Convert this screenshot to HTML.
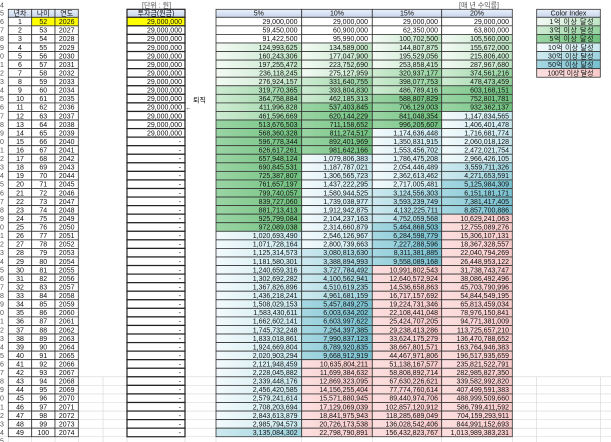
<!DOCTYPE html>
<html><head><meta charset="utf-8"><style>
html,body{margin:0;padding:0;background:#fff;}
svg{display:block}
text{font-family:"Liberation Sans","Noto Sans CJK KR",sans-serif;font-size:7px;fill:#111}
.m{text-anchor:middle}.r{text-anchor:end}
.n{fill:#555}
.k{stroke:#333;stroke-width:.8}
.k2{stroke:#222;stroke-width:1.2}
.w{fill:#fff}.y{fill:#ffff00}.h{fill:url(#gh)}
.l1{fill:url(#g1)}.l2{fill:url(#g2)}.l3{fill:url(#g3)}.l4{fill:url(#g4)}.l5{fill:url(#g5)}.l6{fill:url(#g6)}.l7{fill:url(#g7)}
.gl{stroke:#d6d6d6;stroke-width:.6;fill:none}
</style></head><body>
<svg width="611" height="442" viewBox="0 0 611 442" xmlns="http://www.w3.org/2000/svg">
<defs>
<linearGradient id="g1" x1="0" x2="1" y1="0" y2="0"><stop offset="0" stop-color="#f3faf4"/><stop offset="1" stop-color="#bfe5c4"/></linearGradient>
<linearGradient id="g2" x1="0" x2="1" y1="0" y2="0"><stop offset="0" stop-color="#cfecd3"/><stop offset="1" stop-color="#94d29e"/></linearGradient>
<linearGradient id="g3" x1="0" x2="1" y1="0" y2="0"><stop offset="0" stop-color="#9ad5a4"/><stop offset="1" stop-color="#70c07e"/></linearGradient>
<linearGradient id="g4" x1="0" x2="1" y1="0" y2="0"><stop offset="0" stop-color="#f3fafc"/><stop offset="1" stop-color="#c8e8ee"/></linearGradient>
<linearGradient id="g5" x1="0" x2="1" y1="0" y2="0"><stop offset="0" stop-color="#cde9ef"/><stop offset="1" stop-color="#9dd3de"/></linearGradient>
<linearGradient id="g6" x1="0" x2="1" y1="0" y2="0"><stop offset="0" stop-color="#a6d8e2"/><stop offset="1" stop-color="#78c0cf"/></linearGradient>
<linearGradient id="g7" x1="0" x2="1" y1="0" y2="0"><stop offset="0" stop-color="#fcdede"/><stop offset="1" stop-color="#f7caca"/></linearGradient>
<linearGradient id="gh" x1="0" x2="0" y1="0" y2="1"><stop offset="0" stop-color="#eaf0f9"/><stop offset="1" stop-color="#c7d5ed"/></linearGradient>
</defs>

<!-- gridlines lower area -->
<path class="gl" d="M78.3 376.82H127M78.3 385.38H127M78.3 393.94H127M78.3 402.5H127M78.3 411.06H127M78.3 419.62H127M78.3 428.18H127
M185 376.82H216M185 385.38H216M185 393.94H216M185 402.5H216M185 411.06H216M185 419.62H216M185 428.18H216
M512.3 376.82H611M512.3 385.38H611M512.3 393.94H611M512.3 402.5H611M512.3 411.06H611M512.3 419.62H611M512.3 428.18H611
M0 436.74H611M103 376.82V442M536.7 376.82V442M600.3 376.82V442
M8.3 436.74V442M31.7 436.74V442M55 436.74V442M78.3 436.74V442M127 436.74V442M185 436.74V442M216 436.74V442M301.7 436.74V442M372.3 436.74V442M441.7 436.74V442M512.3 436.74V442"/>

<!-- top labels -->
<text class="n" x="0" y="7.5">4</text>
<text class="n" x="142" y="7.5">[단위 : 원]</text>
<text class="n" x="459" y="7.5">[매 년 수익률]</text>

<!-- header -->
<g transform="translate(0,9.3)">
<rect class="k h" x="8.3" width="23.4" height="8"/>
<rect class="k h" x="31.7" width="23.3" height="8"/>
<rect class="k h" x="55" width="23.3" height="8"/>
<rect class="k2 h" x="127" width="58" height="8"/>
<rect class="k h" x="216" width="85.7" height="8"/>
<rect class="k h" x="301.7" width="70.6" height="8"/>
<rect class="k h" x="372.3" width="69.4" height="8"/>
<rect class="k h" x="441.7" width="70.6" height="8"/>
<rect class="k h" x="536.7" width="63.6" height="8"/>
<text class="n" x="0" y="6.3">5</text>
<text class="m" x="20" y="6.3">년차</text>
<text class="m" x="43.3" y="6.3">나이</text>
<text class="m" x="66.7" y="6.3">연도</text>
<text class="m" x="156" y="6.3">투자금(원금)</text>
<text class="m" x="258.8" y="6.3">5%</text>
<text class="m" x="337" y="6.3">10%</text>
<text class="m" x="407" y="6.3">15%</text>
<text class="m" x="477" y="6.3">20%</text>
<text class="m" x="568.5" y="6.3">Color Index</text>
</g>

<!-- color index -->
<g>
<rect class="k l1" x="536.7" y="17.3" width="63.6" height="8.56"/>
<rect class="k l2" x="536.7" y="25.86" width="63.6" height="8.56"/>
<rect class="k l3" x="536.7" y="34.42" width="63.6" height="8.56"/>
<rect class="k l4" x="536.7" y="42.98" width="63.6" height="8.56"/>
<rect class="k l5" x="536.7" y="51.54" width="63.6" height="8.56"/>
<rect class="k l6" x="536.7" y="60.1" width="63.6" height="8.56"/>
<rect class="k l7" x="536.7" y="68.66" width="63.6" height="8.56"/>
<text x="549.5" y="24.1" textLength="44" lengthAdjust="spacing">1억 이상 달성</text>
<text x="549.5" y="32.66" textLength="44" lengthAdjust="spacing">3억 이상 달성</text>
<text x="549.5" y="41.22" textLength="44" lengthAdjust="spacing">5억 이상 달성</text>
<text x="548" y="49.78" textLength="45.5" lengthAdjust="spacing">10억 이상 달성</text>
<text x="548" y="58.34" textLength="45.5" lengthAdjust="spacing">30억 이상 달성</text>
<text x="548" y="66.9" textLength="45.5" lengthAdjust="spacing">50억 이상 달성</text>
<text x="547.5" y="75.46" textLength="46" lengthAdjust="spacing">100억 이상 달성</text>
</g>

<text x="193" y="102.5">퇴직</text>
<text x="185.5" y="109.5" style="font-size:6px">←</text>

<!-- rows -->
<g transform="translate(0,17.3)"><rect class="k w" x="8.3" width="23.4" height="8.56"/><rect class="k y" x="31.7" width="23.3" height="8.56"/><rect class="k y" x="55" width="23.3" height="8.56"/><rect class="k2 y" x="127" width="58" height="8.56"/><rect class="k w" x="216" width="85.7" height="8.56"/><rect class="k w" x="301.7" width="70.6" height="8.56"/><rect class="k w" x="372.3" width="69.4" height="8.56"/><rect class="k w" x="441.7" width="70.6" height="8.56"/>
<text class="n" x="0" y="6.8">6</text><text class="m" x="20" y="6.8">1</text><text class="m" x="43.3" y="6.8">52</text><text class="m" x="66.7" y="6.8">2026</text><text class="r" x="182" y="6.8">29,000,000</text><text class="r" x="297.5" y="6.8">29,000,000</text><text class="r" x="368" y="6.8">29,000,000</text><text class="r" x="438" y="6.8">29,000,000</text><text class="r" x="509" y="6.8">29,000,000</text></g>

<g transform="translate(0,25.86)"><rect class="k w" x="8.3" width="23.4" height="8.56"/><rect class="k w" x="31.7" width="23.3" height="8.56"/><rect class="k w" x="55" width="23.3" height="8.56"/><rect class="k2 w" x="127" width="58" height="8.56"/><rect class="k w" x="216" width="85.7" height="8.56"/><rect class="k w" x="301.7" width="70.6" height="8.56"/><rect class="k w" x="372.3" width="69.4" height="8.56"/><rect class="k w" x="441.7" width="70.6" height="8.56"/>
<text class="n" x="0" y="6.8">7</text><text class="m" x="20" y="6.8">2</text><text class="m" x="43.3" y="6.8">53</text><text class="m" x="66.7" y="6.8">2027</text><text class="r" x="182" y="6.8">29,000,000</text><text class="r" x="297.5" y="6.8">59,450,000</text><text class="r" x="368" y="6.8">60,900,000</text><text class="r" x="438" y="6.8">62,350,000</text><text class="r" x="509" y="6.8">63,800,000</text></g>

<g transform="translate(0,34.42)"><rect class="k w" x="8.3" width="23.4" height="8.56"/><rect class="k w" x="31.7" width="23.3" height="8.56"/><rect class="k w" x="55" width="23.3" height="8.56"/><rect class="k2 w" x="127" width="58" height="8.56"/><rect class="k w" x="216" width="85.7" height="8.56"/><rect class="k w" x="301.7" width="70.6" height="8.56"/><rect class="k l1" x="372.3" width="69.4" height="8.56"/><rect class="k l1" x="441.7" width="70.6" height="8.56"/>
<text class="n" x="0" y="6.8">8</text><text class="m" x="20" y="6.8">3</text><text class="m" x="43.3" y="6.8">54</text><text class="m" x="66.7" y="6.8">2028</text><text class="r" x="182" y="6.8">29,000,000</text><text class="r" x="297.5" y="6.8">91,422,500</text><text class="r" x="368" y="6.8">95,990,000</text><text class="r" x="438" y="6.8">100,702,500</text><text class="r" x="509" y="6.8">105,560,000</text></g>

<g transform="translate(0,42.98)"><rect class="k w" x="8.3" width="23.4" height="8.56"/><rect class="k w" x="31.7" width="23.3" height="8.56"/><rect class="k w" x="55" width="23.3" height="8.56"/><rect class="k2 w" x="127" width="58" height="8.56"/><rect class="k l1" x="216" width="85.7" height="8.56"/><rect class="k l1" x="301.7" width="70.6" height="8.56"/><rect class="k l1" x="372.3" width="69.4" height="8.56"/><rect class="k l1" x="441.7" width="70.6" height="8.56"/>
<text class="n" x="0" y="6.8">9</text><text class="m" x="20" y="6.8">4</text><text class="m" x="43.3" y="6.8">55</text><text class="m" x="66.7" y="6.8">2029</text><text class="r" x="182" y="6.8">29,000,000</text><text class="r" x="297.5" y="6.8">124,993,625</text><text class="r" x="368" y="6.8">134,589,000</text><text class="r" x="438" y="6.8">144,807,875</text><text class="r" x="509" y="6.8">155,672,000</text></g>

<g transform="translate(0,51.54)"><rect class="k w" x="8.3" width="23.4" height="8.56"/><rect class="k w" x="31.7" width="23.3" height="8.56"/><rect class="k w" x="55" width="23.3" height="8.56"/><rect class="k2 w" x="127" width="58" height="8.56"/><rect class="k l1" x="216" width="85.7" height="8.56"/><rect class="k l1" x="301.7" width="70.6" height="8.56"/><rect class="k l1" x="372.3" width="69.4" height="8.56"/><rect class="k l1" x="441.7" width="70.6" height="8.56"/>
<text class="n" x="0" y="6.8">0</text><text class="m" x="20" y="6.8">5</text><text class="m" x="43.3" y="6.8">56</text><text class="m" x="66.7" y="6.8">2030</text><text class="r" x="182" y="6.8">29,000,000</text><text class="r" x="297.5" y="6.8">160,243,306</text><text class="r" x="368" y="6.8">177,047,900</text><text class="r" x="438" y="6.8">195,529,056</text><text class="r" x="509" y="6.8">215,806,400</text></g>

<g transform="translate(0,60.1)"><rect class="k w" x="8.3" width="23.4" height="8.56"/><rect class="k w" x="31.7" width="23.3" height="8.56"/><rect class="k w" x="55" width="23.3" height="8.56"/><rect class="k2 w" x="127" width="58" height="8.56"/><rect class="k l1" x="216" width="85.7" height="8.56"/><rect class="k l1" x="301.7" width="70.6" height="8.56"/><rect class="k l1" x="372.3" width="69.4" height="8.56"/><rect class="k l1" x="441.7" width="70.6" height="8.56"/>
<text class="n" x="0" y="6.8">1</text><text class="m" x="20" y="6.8">6</text><text class="m" x="43.3" y="6.8">57</text><text class="m" x="66.7" y="6.8">2031</text><text class="r" x="182" y="6.8">29,000,000</text><text class="r" x="297.5" y="6.8">197,255,472</text><text class="r" x="368" y="6.8">223,752,690</text><text class="r" x="438" y="6.8">253,858,415</text><text class="r" x="509" y="6.8">287,967,680</text></g>

<g transform="translate(0,68.66)"><rect class="k w" x="8.3" width="23.4" height="8.56"/><rect class="k w" x="31.7" width="23.3" height="8.56"/><rect class="k w" x="55" width="23.3" height="8.56"/><rect class="k2 w" x="127" width="58" height="8.56"/><rect class="k l1" x="216" width="85.7" height="8.56"/><rect class="k l1" x="301.7" width="70.6" height="8.56"/><rect class="k l2" x="372.3" width="69.4" height="8.56"/><rect class="k l2" x="441.7" width="70.6" height="8.56"/>
<text class="n" x="0" y="6.8">2</text><text class="m" x="20" y="6.8">7</text><text class="m" x="43.3" y="6.8">58</text><text class="m" x="66.7" y="6.8">2032</text><text class="r" x="182" y="6.8">29,000,000</text><text class="r" x="297.5" y="6.8">236,118,245</text><text class="r" x="368" y="6.8">275,127,959</text><text class="r" x="438" y="6.8">320,937,177</text><text class="r" x="509" y="6.8">374,561,216</text></g>

<g transform="translate(0,77.22)"><rect class="k w" x="8.3" width="23.4" height="8.56"/><rect class="k w" x="31.7" width="23.3" height="8.56"/><rect class="k w" x="55" width="23.3" height="8.56"/><rect class="k2 w" x="127" width="58" height="8.56"/><rect class="k l1" x="216" width="85.7" height="8.56"/><rect class="k l2" x="301.7" width="70.6" height="8.56"/><rect class="k l2" x="372.3" width="69.4" height="8.56"/><rect class="k l2" x="441.7" width="70.6" height="8.56"/>
<text class="n" x="0" y="6.8">3</text><text class="m" x="20" y="6.8">8</text><text class="m" x="43.3" y="6.8">59</text><text class="m" x="66.7" y="6.8">2033</text><text class="r" x="182" y="6.8">29,000,000</text><text class="r" x="297.5" y="6.8">276,924,157</text><text class="r" x="368" y="6.8">331,640,755</text><text class="r" x="438" y="6.8">398,077,753</text><text class="r" x="509" y="6.8">478,473,459</text></g>

<g transform="translate(0,85.78)"><rect class="k w" x="8.3" width="23.4" height="8.56"/><rect class="k w" x="31.7" width="23.3" height="8.56"/><rect class="k w" x="55" width="23.3" height="8.56"/><rect class="k2 w" x="127" width="58" height="8.56"/><rect class="k l2" x="216" width="85.7" height="8.56"/><rect class="k l2" x="301.7" width="70.6" height="8.56"/><rect class="k l2" x="372.3" width="69.4" height="8.56"/><rect class="k l3" x="441.7" width="70.6" height="8.56"/>
<text class="n" x="0" y="6.8">4</text><text class="m" x="20" y="6.8">9</text><text class="m" x="43.3" y="6.8">60</text><text class="m" x="66.7" y="6.8">2034</text><text class="r" x="182" y="6.8">29,000,000</text><text class="r" x="297.5" y="6.8">319,770,365</text><text class="r" x="368" y="6.8">393,804,830</text><text class="r" x="438" y="6.8">486,789,416</text><text class="r" x="509" y="6.8">603,168,151</text></g>

<g transform="translate(0,94.34)"><rect class="k w" x="8.3" width="23.4" height="8.56"/><rect class="k w" x="31.7" width="23.3" height="8.56"/><rect class="k w" x="55" width="23.3" height="8.56"/><rect class="k2 w" x="127" width="58" height="8.56"/><rect class="k l2" x="216" width="85.7" height="8.56"/><rect class="k l2" x="301.7" width="70.6" height="8.56"/><rect class="k l3" x="372.3" width="69.4" height="8.56"/><rect class="k l3" x="441.7" width="70.6" height="8.56"/>
<text class="n" x="0" y="6.8">5</text><text class="m" x="20" y="6.8">10</text><text class="m" x="43.3" y="6.8">61</text><text class="m" x="66.7" y="6.8">2035</text><text class="r" x="182" y="6.8">29,000,000</text><text class="r" x="297.5" y="6.8">364,758,884</text><text class="r" x="368" y="6.8">462,185,313</text><text class="r" x="438" y="6.8">588,807,829</text><text class="r" x="509" y="6.8">752,801,781</text></g>

<g transform="translate(0,102.9)"><rect class="k w" x="8.3" width="23.4" height="8.56"/><rect class="k w" x="31.7" width="23.3" height="8.56"/><rect class="k w" x="55" width="23.3" height="8.56"/><rect class="k2 w" x="127" width="58" height="8.56"/><rect class="k l2" x="216" width="85.7" height="8.56"/><rect class="k l3" x="301.7" width="70.6" height="8.56"/><rect class="k l3" x="372.3" width="69.4" height="8.56"/><rect class="k l3" x="441.7" width="70.6" height="8.56"/>
<text class="n" x="0" y="6.8">6</text><text class="m" x="20" y="6.8">11</text><text class="m" x="43.3" y="6.8">62</text><text class="m" x="66.7" y="6.8">2036</text><text class="r" x="182" y="6.8">29,000,000</text><text class="r" x="297.5" y="6.8">411,996,828</text><text class="r" x="368" y="6.8">537,403,845</text><text class="r" x="438" y="6.8">706,129,003</text><text class="r" x="509" y="6.8">932,362,137</text></g>

<g transform="translate(0,111.46)"><rect class="k w" x="8.3" width="23.4" height="8.56"/><rect class="k w" x="31.7" width="23.3" height="8.56"/><rect class="k w" x="55" width="23.3" height="8.56"/><rect class="k2 w" x="127" width="58" height="8.56"/><rect class="k l2" x="216" width="85.7" height="8.56"/><rect class="k l3" x="301.7" width="70.6" height="8.56"/><rect class="k l3" x="372.3" width="69.4" height="8.56"/><rect class="k l4" x="441.7" width="70.6" height="8.56"/>
<text class="n" x="0" y="6.8">7</text><text class="m" x="20" y="6.8">12</text><text class="m" x="43.3" y="6.8">63</text><text class="m" x="66.7" y="6.8">2037</text><text class="r" x="182" y="6.8">29,000,000</text><text class="r" x="297.5" y="6.8">461,596,669</text><text class="r" x="368" y="6.8">620,144,229</text><text class="r" x="438" y="6.8">841,048,354</text><text class="r" x="509" y="6.8">1,147,834,565</text></g>

<g transform="translate(0,120.02)"><rect class="k w" x="8.3" width="23.4" height="8.56"/><rect class="k w" x="31.7" width="23.3" height="8.56"/><rect class="k w" x="55" width="23.3" height="8.56"/><rect class="k2 w" x="127" width="58" height="8.56"/><rect class="k l3" x="216" width="85.7" height="8.56"/><rect class="k l3" x="301.7" width="70.6" height="8.56"/><rect class="k l3" x="372.3" width="69.4" height="8.56"/><rect class="k l4" x="441.7" width="70.6" height="8.56"/>
<text class="n" x="0" y="6.8">8</text><text class="m" x="20" y="6.8">13</text><text class="m" x="43.3" y="6.8">64</text><text class="m" x="66.7" y="6.8">2038</text><text class="r" x="182" y="6.8">29,000,000</text><text class="r" x="297.5" y="6.8">513,676,503</text><text class="r" x="368" y="6.8">711,158,652</text><text class="r" x="438" y="6.8">996,205,607</text><text class="r" x="509" y="6.8">1,406,401,478</text></g>

<g transform="translate(0,128.58)"><rect class="k w" x="8.3" width="23.4" height="8.56"/><rect class="k w" x="31.7" width="23.3" height="8.56"/><rect class="k w" x="55" width="23.3" height="8.56"/><rect class="k2 w" x="127" width="58" height="8.56"/><rect class="k l3" x="216" width="85.7" height="8.56"/><rect class="k l3" x="301.7" width="70.6" height="8.56"/><rect class="k l4" x="372.3" width="69.4" height="8.56"/><rect class="k l4" x="441.7" width="70.6" height="8.56"/>
<text class="n" x="0" y="6.8">9</text><text class="m" x="20" y="6.8">14</text><text class="m" x="43.3" y="6.8">65</text><text class="m" x="66.7" y="6.8">2039</text><text class="r" x="182" y="6.8">29,000,000</text><text class="r" x="297.5" y="6.8">568,360,328</text><text class="r" x="368" y="6.8">811,274,517</text><text class="r" x="438" y="6.8">1,174,636,448</text><text class="r" x="509" y="6.8">1,716,681,774</text></g>

<g transform="translate(0,137.14)"><rect class="k w" x="8.3" width="23.4" height="8.56"/><rect class="k w" x="31.7" width="23.3" height="8.56"/><rect class="k w" x="55" width="23.3" height="8.56"/><rect class="k2 w" x="127" width="58" height="8.56"/><rect class="k l3" x="216" width="85.7" height="8.56"/><rect class="k l3" x="301.7" width="70.6" height="8.56"/><rect class="k l4" x="372.3" width="69.4" height="8.56"/><rect class="k l4" x="441.7" width="70.6" height="8.56"/>
<text class="n" x="0" y="6.8">0</text><text class="m" x="20" y="6.8">15</text><text class="m" x="43.3" y="6.8">66</text><text class="m" x="66.7" y="6.8">2040</text><text class="r" x="181" y="6.8">-</text><text class="r" x="297.5" y="6.8">596,778,344</text><text class="r" x="368" y="6.8">892,401,969</text><text class="r" x="438" y="6.8">1,350,831,915</text><text class="r" x="509" y="6.8">2,060,018,128</text></g>

<g transform="translate(0,145.7)"><rect class="k w" x="8.3" width="23.4" height="8.56"/><rect class="k w" x="31.7" width="23.3" height="8.56"/><rect class="k w" x="55" width="23.3" height="8.56"/><rect class="k2 w" x="127" width="58" height="8.56"/><rect class="k l3" x="216" width="85.7" height="8.56"/><rect class="k l3" x="301.7" width="70.6" height="8.56"/><rect class="k l4" x="372.3" width="69.4" height="8.56"/><rect class="k l4" x="441.7" width="70.6" height="8.56"/>
<text class="n" x="0" y="6.8">1</text><text class="m" x="20" y="6.8">16</text><text class="m" x="43.3" y="6.8">67</text><text class="m" x="66.7" y="6.8">2041</text><text class="r" x="181" y="6.8">-</text><text class="r" x="297.5" y="6.8">626,617,261</text><text class="r" x="368" y="6.8">981,642,166</text><text class="r" x="438" y="6.8">1,553,456,702</text><text class="r" x="509" y="6.8">2,472,021,754</text></g>

<g transform="translate(0,154.26)"><rect class="k w" x="8.3" width="23.4" height="8.56"/><rect class="k w" x="31.7" width="23.3" height="8.56"/><rect class="k w" x="55" width="23.3" height="8.56"/><rect class="k2 w" x="127" width="58" height="8.56"/><rect class="k l3" x="216" width="85.7" height="8.56"/><rect class="k l4" x="301.7" width="70.6" height="8.56"/><rect class="k l4" x="372.3" width="69.4" height="8.56"/><rect class="k l4" x="441.7" width="70.6" height="8.56"/>
<text class="n" x="0" y="6.8">2</text><text class="m" x="20" y="6.8">17</text><text class="m" x="43.3" y="6.8">68</text><text class="m" x="66.7" y="6.8">2042</text><text class="r" x="181" y="6.8">-</text><text class="r" x="297.5" y="6.8">657,948,124</text><text class="r" x="368" y="6.8">1,079,806,383</text><text class="r" x="438" y="6.8">1,786,475,208</text><text class="r" x="509" y="6.8">2,966,426,105</text></g>

<g transform="translate(0,162.82)"><rect class="k w" x="8.3" width="23.4" height="8.56"/><rect class="k w" x="31.7" width="23.3" height="8.56"/><rect class="k w" x="55" width="23.3" height="8.56"/><rect class="k2 w" x="127" width="58" height="8.56"/><rect class="k l3" x="216" width="85.7" height="8.56"/><rect class="k l4" x="301.7" width="70.6" height="8.56"/><rect class="k l4" x="372.3" width="69.4" height="8.56"/><rect class="k l5" x="441.7" width="70.6" height="8.56"/>
<text class="n" x="0" y="6.8">3</text><text class="m" x="20" y="6.8">18</text><text class="m" x="43.3" y="6.8">69</text><text class="m" x="66.7" y="6.8">2043</text><text class="r" x="181" y="6.8">-</text><text class="r" x="297.5" y="6.8">690,845,531</text><text class="r" x="368" y="6.8">1,187,787,021</text><text class="r" x="438" y="6.8">2,054,446,489</text><text class="r" x="509" y="6.8">3,559,711,326</text></g>

<g transform="translate(0,171.38)"><rect class="k w" x="8.3" width="23.4" height="8.56"/><rect class="k w" x="31.7" width="23.3" height="8.56"/><rect class="k w" x="55" width="23.3" height="8.56"/><rect class="k2 w" x="127" width="58" height="8.56"/><rect class="k l3" x="216" width="85.7" height="8.56"/><rect class="k l4" x="301.7" width="70.6" height="8.56"/><rect class="k l4" x="372.3" width="69.4" height="8.56"/><rect class="k l5" x="441.7" width="70.6" height="8.56"/>
<text class="n" x="0" y="6.8">4</text><text class="m" x="20" y="6.8">19</text><text class="m" x="43.3" y="6.8">70</text><text class="m" x="66.7" y="6.8">2044</text><text class="r" x="181" y="6.8">-</text><text class="r" x="297.5" y="6.8">725,387,807</text><text class="r" x="368" y="6.8">1,306,565,723</text><text class="r" x="438" y="6.8">2,362,613,462</text><text class="r" x="509" y="6.8">4,271,653,591</text></g>

<g transform="translate(0,179.94)"><rect class="k w" x="8.3" width="23.4" height="8.56"/><rect class="k w" x="31.7" width="23.3" height="8.56"/><rect class="k w" x="55" width="23.3" height="8.56"/><rect class="k2 w" x="127" width="58" height="8.56"/><rect class="k l3" x="216" width="85.7" height="8.56"/><rect class="k l4" x="301.7" width="70.6" height="8.56"/><rect class="k l4" x="372.3" width="69.4" height="8.56"/><rect class="k l6" x="441.7" width="70.6" height="8.56"/>
<text class="n" x="0" y="6.8">5</text><text class="m" x="20" y="6.8">20</text><text class="m" x="43.3" y="6.8">71</text><text class="m" x="66.7" y="6.8">2045</text><text class="r" x="181" y="6.8">-</text><text class="r" x="297.5" y="6.8">761,657,197</text><text class="r" x="368" y="6.8">1,437,222,295</text><text class="r" x="438" y="6.8">2,717,005,481</text><text class="r" x="509" y="6.8">5,125,984,309</text></g>

<g transform="translate(0,188.5)"><rect class="k w" x="8.3" width="23.4" height="8.56"/><rect class="k w" x="31.7" width="23.3" height="8.56"/><rect class="k w" x="55" width="23.3" height="8.56"/><rect class="k2 w" x="127" width="58" height="8.56"/><rect class="k l3" x="216" width="85.7" height="8.56"/><rect class="k l4" x="301.7" width="70.6" height="8.56"/><rect class="k l5" x="372.3" width="69.4" height="8.56"/><rect class="k l6" x="441.7" width="70.6" height="8.56"/>
<text class="n" x="0" y="6.8">6</text><text class="m" x="20" y="6.8">21</text><text class="m" x="43.3" y="6.8">72</text><text class="m" x="66.7" y="6.8">2046</text><text class="r" x="181" y="6.8">-</text><text class="r" x="297.5" y="6.8">799,740,057</text><text class="r" x="368" y="6.8">1,580,944,525</text><text class="r" x="438" y="6.8">3,124,556,303</text><text class="r" x="509" y="6.8">6,151,181,171</text></g>

<g transform="translate(0,197.06)"><rect class="k w" x="8.3" width="23.4" height="8.56"/><rect class="k w" x="31.7" width="23.3" height="8.56"/><rect class="k w" x="55" width="23.3" height="8.56"/><rect class="k2 w" x="127" width="58" height="8.56"/><rect class="k l3" x="216" width="85.7" height="8.56"/><rect class="k l4" x="301.7" width="70.6" height="8.56"/><rect class="k l5" x="372.3" width="69.4" height="8.56"/><rect class="k l6" x="441.7" width="70.6" height="8.56"/>
<text class="n" x="0" y="6.8">7</text><text class="m" x="20" y="6.8">22</text><text class="m" x="43.3" y="6.8">73</text><text class="m" x="66.7" y="6.8">2047</text><text class="r" x="181" y="6.8">-</text><text class="r" x="297.5" y="6.8">839,727,060</text><text class="r" x="368" y="6.8">1,739,038,977</text><text class="r" x="438" y="6.8">3,593,239,749</text><text class="r" x="509" y="6.8">7,381,417,405</text></g>

<g transform="translate(0,205.62)"><rect class="k w" x="8.3" width="23.4" height="8.56"/><rect class="k w" x="31.7" width="23.3" height="8.56"/><rect class="k w" x="55" width="23.3" height="8.56"/><rect class="k2 w" x="127" width="58" height="8.56"/><rect class="k l3" x="216" width="85.7" height="8.56"/><rect class="k l4" x="301.7" width="70.6" height="8.56"/><rect class="k l5" x="372.3" width="69.4" height="8.56"/><rect class="k l6" x="441.7" width="70.6" height="8.56"/>
<text class="n" x="0" y="6.8">8</text><text class="m" x="20" y="6.8">23</text><text class="m" x="43.3" y="6.8">74</text><text class="m" x="66.7" y="6.8">2048</text><text class="r" x="181" y="6.8">-</text><text class="r" x="297.5" y="6.8">881,713,413</text><text class="r" x="368" y="6.8">1,912,942,875</text><text class="r" x="438" y="6.8">4,132,225,711</text><text class="r" x="509" y="6.8">8,857,700,886</text></g>

<g transform="translate(0,214.18)"><rect class="k w" x="8.3" width="23.4" height="8.56"/><rect class="k w" x="31.7" width="23.3" height="8.56"/><rect class="k w" x="55" width="23.3" height="8.56"/><rect class="k2 w" x="127" width="58" height="8.56"/><rect class="k l3" x="216" width="85.7" height="8.56"/><rect class="k l4" x="301.7" width="70.6" height="8.56"/><rect class="k l5" x="372.3" width="69.4" height="8.56"/><rect class="k l7" x="441.7" width="70.6" height="8.56"/>
<text class="n" x="0" y="6.8">9</text><text class="m" x="20" y="6.8">24</text><text class="m" x="43.3" y="6.8">75</text><text class="m" x="66.7" y="6.8">2049</text><text class="r" x="181" y="6.8">-</text><text class="r" x="297.5" y="6.8">925,799,084</text><text class="r" x="368" y="6.8">2,104,237,163</text><text class="r" x="438" y="6.8">4,752,059,568</text><text class="r" x="509" y="6.8">10,629,241,063</text></g>

<g transform="translate(0,222.74)"><rect class="k w" x="8.3" width="23.4" height="8.56"/><rect class="k w" x="31.7" width="23.3" height="8.56"/><rect class="k w" x="55" width="23.3" height="8.56"/><rect class="k2 w" x="127" width="58" height="8.56"/><rect class="k l3" x="216" width="85.7" height="8.56"/><rect class="k l4" x="301.7" width="70.6" height="8.56"/><rect class="k l6" x="372.3" width="69.4" height="8.56"/><rect class="k l7" x="441.7" width="70.6" height="8.56"/>
<text class="n" x="0" y="6.8">0</text><text class="m" x="20" y="6.8">25</text><text class="m" x="43.3" y="6.8">76</text><text class="m" x="66.7" y="6.8">2050</text><text class="r" x="181" y="6.8">-</text><text class="r" x="297.5" y="6.8">972,089,038</text><text class="r" x="368" y="6.8">2,314,660,879</text><text class="r" x="438" y="6.8">5,464,868,503</text><text class="r" x="509" y="6.8">12,755,089,276</text></g>

<g transform="translate(0,231.3)"><rect class="k w" x="8.3" width="23.4" height="8.56"/><rect class="k w" x="31.7" width="23.3" height="8.56"/><rect class="k w" x="55" width="23.3" height="8.56"/><rect class="k2 w" x="127" width="58" height="8.56"/><rect class="k l4" x="216" width="85.7" height="8.56"/><rect class="k l4" x="301.7" width="70.6" height="8.56"/><rect class="k l6" x="372.3" width="69.4" height="8.56"/><rect class="k l7" x="441.7" width="70.6" height="8.56"/>
<text class="n" x="0" y="6.8">1</text><text class="m" x="20" y="6.8">26</text><text class="m" x="43.3" y="6.8">77</text><text class="m" x="66.7" y="6.8">2051</text><text class="r" x="181" y="6.8">-</text><text class="r" x="297.5" y="6.8">1,020,693,490</text><text class="r" x="368" y="6.8">2,546,126,967</text><text class="r" x="438" y="6.8">6,284,598,779</text><text class="r" x="509" y="6.8">15,306,107,131</text></g>

<g transform="translate(0,239.86)"><rect class="k w" x="8.3" width="23.4" height="8.56"/><rect class="k w" x="31.7" width="23.3" height="8.56"/><rect class="k w" x="55" width="23.3" height="8.56"/><rect class="k2 w" x="127" width="58" height="8.56"/><rect class="k l4" x="216" width="85.7" height="8.56"/><rect class="k l4" x="301.7" width="70.6" height="8.56"/><rect class="k l6" x="372.3" width="69.4" height="8.56"/><rect class="k l7" x="441.7" width="70.6" height="8.56"/>
<text class="n" x="0" y="6.8">2</text><text class="m" x="20" y="6.8">27</text><text class="m" x="43.3" y="6.8">78</text><text class="m" x="66.7" y="6.8">2052</text><text class="r" x="181" y="6.8">-</text><text class="r" x="297.5" y="6.8">1,071,728,164</text><text class="r" x="368" y="6.8">2,800,739,663</text><text class="r" x="438" y="6.8">7,227,288,596</text><text class="r" x="509" y="6.8">18,367,328,557</text></g>

<g transform="translate(0,248.42)"><rect class="k w" x="8.3" width="23.4" height="8.56"/><rect class="k w" x="31.7" width="23.3" height="8.56"/><rect class="k w" x="55" width="23.3" height="8.56"/><rect class="k2 w" x="127" width="58" height="8.56"/><rect class="k l4" x="216" width="85.7" height="8.56"/><rect class="k l5" x="301.7" width="70.6" height="8.56"/><rect class="k l6" x="372.3" width="69.4" height="8.56"/><rect class="k l7" x="441.7" width="70.6" height="8.56"/>
<text class="n" x="0" y="6.8">3</text><text class="m" x="20" y="6.8">28</text><text class="m" x="43.3" y="6.8">79</text><text class="m" x="66.7" y="6.8">2053</text><text class="r" x="181" y="6.8">-</text><text class="r" x="297.5" y="6.8">1,125,314,573</text><text class="r" x="368" y="6.8">3,080,813,630</text><text class="r" x="438" y="6.8">8,311,381,885</text><text class="r" x="509" y="6.8">22,040,794,269</text></g>

<g transform="translate(0,256.98)"><rect class="k w" x="8.3" width="23.4" height="8.56"/><rect class="k w" x="31.7" width="23.3" height="8.56"/><rect class="k w" x="55" width="23.3" height="8.56"/><rect class="k2 w" x="127" width="58" height="8.56"/><rect class="k l4" x="216" width="85.7" height="8.56"/><rect class="k l5" x="301.7" width="70.6" height="8.56"/><rect class="k l6" x="372.3" width="69.4" height="8.56"/><rect class="k l7" x="441.7" width="70.6" height="8.56"/>
<text class="n" x="0" y="6.8">4</text><text class="m" x="20" y="6.8">29</text><text class="m" x="43.3" y="6.8">80</text><text class="m" x="66.7" y="6.8">2054</text><text class="r" x="181" y="6.8">-</text><text class="r" x="297.5" y="6.8">1,181,580,301</text><text class="r" x="368" y="6.8">3,388,894,993</text><text class="r" x="438" y="6.8">9,558,089,168</text><text class="r" x="509" y="6.8">26,448,953,122</text></g>

<g transform="translate(0,265.54)"><rect class="k w" x="8.3" width="23.4" height="8.56"/><rect class="k w" x="31.7" width="23.3" height="8.56"/><rect class="k w" x="55" width="23.3" height="8.56"/><rect class="k2 w" x="127" width="58" height="8.56"/><rect class="k l4" x="216" width="85.7" height="8.56"/><rect class="k l5" x="301.7" width="70.6" height="8.56"/><rect class="k l7" x="372.3" width="69.4" height="8.56"/><rect class="k l7" x="441.7" width="70.6" height="8.56"/>
<text class="n" x="0" y="6.8">5</text><text class="m" x="20" y="6.8">30</text><text class="m" x="43.3" y="6.8">81</text><text class="m" x="66.7" y="6.8">2055</text><text class="r" x="181" y="6.8">-</text><text class="r" x="297.5" y="6.8">1,240,659,316</text><text class="r" x="368" y="6.8">3,727,784,492</text><text class="r" x="438" y="6.8">10,991,802,543</text><text class="r" x="509" y="6.8">31,738,743,747</text></g>

<g transform="translate(0,274.1)"><rect class="k w" x="8.3" width="23.4" height="8.56"/><rect class="k w" x="31.7" width="23.3" height="8.56"/><rect class="k w" x="55" width="23.3" height="8.56"/><rect class="k2 w" x="127" width="58" height="8.56"/><rect class="k l4" x="216" width="85.7" height="8.56"/><rect class="k l5" x="301.7" width="70.6" height="8.56"/><rect class="k l7" x="372.3" width="69.4" height="8.56"/><rect class="k l7" x="441.7" width="70.6" height="8.56"/>
<text class="n" x="0" y="6.8">6</text><text class="m" x="20" y="6.8">31</text><text class="m" x="43.3" y="6.8">82</text><text class="m" x="66.7" y="6.8">2056</text><text class="r" x="181" y="6.8">-</text><text class="r" x="297.5" y="6.8">1,302,692,282</text><text class="r" x="368" y="6.8">4,100,562,941</text><text class="r" x="438" y="6.8">12,640,572,924</text><text class="r" x="509" y="6.8">38,086,492,496</text></g>

<g transform="translate(0,282.66)"><rect class="k w" x="8.3" width="23.4" height="8.56"/><rect class="k w" x="31.7" width="23.3" height="8.56"/><rect class="k w" x="55" width="23.3" height="8.56"/><rect class="k2 w" x="127" width="58" height="8.56"/><rect class="k l4" x="216" width="85.7" height="8.56"/><rect class="k l5" x="301.7" width="70.6" height="8.56"/><rect class="k l7" x="372.3" width="69.4" height="8.56"/><rect class="k l7" x="441.7" width="70.6" height="8.56"/>
<text class="n" x="0" y="6.8">7</text><text class="m" x="20" y="6.8">32</text><text class="m" x="43.3" y="6.8">83</text><text class="m" x="66.7" y="6.8">2057</text><text class="r" x="181" y="6.8">-</text><text class="r" x="297.5" y="6.8">1,367,826,896</text><text class="r" x="368" y="6.8">4,510,619,235</text><text class="r" x="438" y="6.8">14,536,658,863</text><text class="r" x="509" y="6.8">45,703,790,996</text></g>

<g transform="translate(0,291.22)"><rect class="k w" x="8.3" width="23.4" height="8.56"/><rect class="k w" x="31.7" width="23.3" height="8.56"/><rect class="k w" x="55" width="23.3" height="8.56"/><rect class="k2 w" x="127" width="58" height="8.56"/><rect class="k l4" x="216" width="85.7" height="8.56"/><rect class="k l5" x="301.7" width="70.6" height="8.56"/><rect class="k l7" x="372.3" width="69.4" height="8.56"/><rect class="k l7" x="441.7" width="70.6" height="8.56"/>
<text class="n" x="0" y="6.8">8</text><text class="m" x="20" y="6.8">33</text><text class="m" x="43.3" y="6.8">84</text><text class="m" x="66.7" y="6.8">2058</text><text class="r" x="181" y="6.8">-</text><text class="r" x="297.5" y="6.8">1,436,218,241</text><text class="r" x="368" y="6.8">4,961,681,159</text><text class="r" x="438" y="6.8">16,717,157,692</text><text class="r" x="509" y="6.8">54,844,549,195</text></g>

<g transform="translate(0,299.78)"><rect class="k w" x="8.3" width="23.4" height="8.56"/><rect class="k w" x="31.7" width="23.3" height="8.56"/><rect class="k w" x="55" width="23.3" height="8.56"/><rect class="k2 w" x="127" width="58" height="8.56"/><rect class="k l4" x="216" width="85.7" height="8.56"/><rect class="k l6" x="301.7" width="70.6" height="8.56"/><rect class="k l7" x="372.3" width="69.4" height="8.56"/><rect class="k l7" x="441.7" width="70.6" height="8.56"/>
<text class="n" x="0" y="6.8">9</text><text class="m" x="20" y="6.8">34</text><text class="m" x="43.3" y="6.8">85</text><text class="m" x="66.7" y="6.8">2059</text><text class="r" x="181" y="6.8">-</text><text class="r" x="297.5" y="6.8">1,508,029,153</text><text class="r" x="368" y="6.8">5,457,849,275</text><text class="r" x="438" y="6.8">19,224,731,346</text><text class="r" x="509" y="6.8">65,813,459,034</text></g>

<g transform="translate(0,308.34)"><rect class="k w" x="8.3" width="23.4" height="8.56"/><rect class="k w" x="31.7" width="23.3" height="8.56"/><rect class="k w" x="55" width="23.3" height="8.56"/><rect class="k2 w" x="127" width="58" height="8.56"/><rect class="k l4" x="216" width="85.7" height="8.56"/><rect class="k l6" x="301.7" width="70.6" height="8.56"/><rect class="k l7" x="372.3" width="69.4" height="8.56"/><rect class="k l7" x="441.7" width="70.6" height="8.56"/>
<text class="n" x="0" y="6.8">0</text><text class="m" x="20" y="6.8">35</text><text class="m" x="43.3" y="6.8">86</text><text class="m" x="66.7" y="6.8">2060</text><text class="r" x="181" y="6.8">-</text><text class="r" x="297.5" y="6.8">1,583,430,611</text><text class="r" x="368" y="6.8">6,003,634,202</text><text class="r" x="438" y="6.8">22,108,441,048</text><text class="r" x="509" y="6.8">78,976,150,841</text></g>

<g transform="translate(0,316.9)"><rect class="k w" x="8.3" width="23.4" height="8.56"/><rect class="k w" x="31.7" width="23.3" height="8.56"/><rect class="k w" x="55" width="23.3" height="8.56"/><rect class="k2 w" x="127" width="58" height="8.56"/><rect class="k l4" x="216" width="85.7" height="8.56"/><rect class="k l6" x="301.7" width="70.6" height="8.56"/><rect class="k l7" x="372.3" width="69.4" height="8.56"/><rect class="k l7" x="441.7" width="70.6" height="8.56"/>
<text class="n" x="0" y="6.8">1</text><text class="m" x="20" y="6.8">36</text><text class="m" x="43.3" y="6.8">87</text><text class="m" x="66.7" y="6.8">2061</text><text class="r" x="181" y="6.8">-</text><text class="r" x="297.5" y="6.8">1,662,602,141</text><text class="r" x="368" y="6.8">6,603,997,622</text><text class="r" x="438" y="6.8">25,424,707,205</text><text class="r" x="509" y="6.8">94,771,381,009</text></g>

<g transform="translate(0,325.46)"><rect class="k w" x="8.3" width="23.4" height="8.56"/><rect class="k w" x="31.7" width="23.3" height="8.56"/><rect class="k w" x="55" width="23.3" height="8.56"/><rect class="k2 w" x="127" width="58" height="8.56"/><rect class="k l4" x="216" width="85.7" height="8.56"/><rect class="k l6" x="301.7" width="70.6" height="8.56"/><rect class="k l7" x="372.3" width="69.4" height="8.56"/><rect class="k l7" x="441.7" width="70.6" height="8.56"/>
<text class="n" x="0" y="6.8">2</text><text class="m" x="20" y="6.8">37</text><text class="m" x="43.3" y="6.8">88</text><text class="m" x="66.7" y="6.8">2062</text><text class="r" x="181" y="6.8">-</text><text class="r" x="297.5" y="6.8">1,745,732,248</text><text class="r" x="368" y="6.8">7,264,397,385</text><text class="r" x="438" y="6.8">29,238,413,286</text><text class="r" x="509" y="6.8">113,725,657,210</text></g>

<g transform="translate(0,334.02)"><rect class="k w" x="8.3" width="23.4" height="8.56"/><rect class="k w" x="31.7" width="23.3" height="8.56"/><rect class="k w" x="55" width="23.3" height="8.56"/><rect class="k2 w" x="127" width="58" height="8.56"/><rect class="k l4" x="216" width="85.7" height="8.56"/><rect class="k l6" x="301.7" width="70.6" height="8.56"/><rect class="k l7" x="372.3" width="69.4" height="8.56"/><rect class="k l7" x="441.7" width="70.6" height="8.56"/>
<text class="n" x="0" y="6.8">3</text><text class="m" x="20" y="6.8">38</text><text class="m" x="43.3" y="6.8">89</text><text class="m" x="66.7" y="6.8">2063</text><text class="r" x="181" y="6.8">-</text><text class="r" x="297.5" y="6.8">1,833,018,861</text><text class="r" x="368" y="6.8">7,990,837,123</text><text class="r" x="438" y="6.8">33,624,175,279</text><text class="r" x="509" y="6.8">136,470,788,652</text></g>

<g transform="translate(0,342.58)"><rect class="k w" x="8.3" width="23.4" height="8.56"/><rect class="k w" x="31.7" width="23.3" height="8.56"/><rect class="k w" x="55" width="23.3" height="8.56"/><rect class="k2 w" x="127" width="58" height="8.56"/><rect class="k l4" x="216" width="85.7" height="8.56"/><rect class="k l6" x="301.7" width="70.6" height="8.56"/><rect class="k l7" x="372.3" width="69.4" height="8.56"/><rect class="k l7" x="441.7" width="70.6" height="8.56"/>
<text class="n" x="0" y="6.8">4</text><text class="m" x="20" y="6.8">39</text><text class="m" x="43.3" y="6.8">90</text><text class="m" x="66.7" y="6.8">2064</text><text class="r" x="181" y="6.8">-</text><text class="r" x="297.5" y="6.8">1,924,669,804</text><text class="r" x="368" y="6.8">8,789,920,835</text><text class="r" x="438" y="6.8">38,667,801,571</text><text class="r" x="509" y="6.8">163,764,946,383</text></g>

<g transform="translate(0,351.14)"><rect class="k w" x="8.3" width="23.4" height="8.56"/><rect class="k w" x="31.7" width="23.3" height="8.56"/><rect class="k w" x="55" width="23.3" height="8.56"/><rect class="k2 w" x="127" width="58" height="8.56"/><rect class="k l4" x="216" width="85.7" height="8.56"/><rect class="k l6" x="301.7" width="70.6" height="8.56"/><rect class="k l7" x="372.3" width="69.4" height="8.56"/><rect class="k l7" x="441.7" width="70.6" height="8.56"/>
<text class="n" x="0" y="6.8">5</text><text class="m" x="20" y="6.8">40</text><text class="m" x="43.3" y="6.8">91</text><text class="m" x="66.7" y="6.8">2065</text><text class="r" x="181" y="6.8">-</text><text class="r" x="297.5" y="6.8">2,020,903,294</text><text class="r" x="368" y="6.8">9,668,912,919</text><text class="r" x="438" y="6.8">44,467,971,806</text><text class="r" x="509" y="6.8">196,517,935,659</text></g>

<g transform="translate(0,359.7)"><rect class="k w" x="8.3" width="23.4" height="8.56"/><rect class="k w" x="31.7" width="23.3" height="8.56"/><rect class="k w" x="55" width="23.3" height="8.56"/><rect class="k2 w" x="127" width="58" height="8.56"/><rect class="k l4" x="216" width="85.7" height="8.56"/><rect class="k l7" x="301.7" width="70.6" height="8.56"/><rect class="k l7" x="372.3" width="69.4" height="8.56"/><rect class="k l7" x="441.7" width="70.6" height="8.56"/>
<text class="n" x="0" y="6.8">6</text><text class="m" x="20" y="6.8">41</text><text class="m" x="43.3" y="6.8">92</text><text class="m" x="66.7" y="6.8">2066</text><text class="r" x="181" y="6.8">-</text><text class="r" x="297.5" y="6.8">2,121,948,459</text><text class="r" x="368" y="6.8">10,635,804,211</text><text class="r" x="438" y="6.8">51,138,167,577</text><text class="r" x="509" y="6.8">235,821,522,791</text></g>

<g transform="translate(0,368.26)"><rect class="k w" x="8.3" width="23.4" height="8.56"/><rect class="k w" x="31.7" width="23.3" height="8.56"/><rect class="k w" x="55" width="23.3" height="8.56"/><rect class="k2 w" x="127" width="58" height="8.56"/><rect class="k l4" x="216" width="85.7" height="8.56"/><rect class="k l7" x="301.7" width="70.6" height="8.56"/><rect class="k l7" x="372.3" width="69.4" height="8.56"/><rect class="k l7" x="441.7" width="70.6" height="8.56"/>
<text class="n" x="0" y="6.8">7</text><text class="m" x="20" y="6.8">42</text><text class="m" x="43.3" y="6.8">93</text><text class="m" x="66.7" y="6.8">2067</text><text class="r" x="181" y="6.8">-</text><text class="r" x="297.5" y="6.8">2,228,045,882</text><text class="r" x="368" y="6.8">11,699,384,632</text><text class="r" x="438" y="6.8">58,808,892,714</text><text class="r" x="509" y="6.8">282,985,827,350</text></g>

<g transform="translate(0,376.82)"><rect class="k w" x="8.3" width="23.4" height="8.56"/><rect class="k w" x="31.7" width="23.3" height="8.56"/><rect class="k w" x="55" width="23.3" height="8.56"/><rect class="k2 w" x="127" width="58" height="8.56"/><rect class="k l4" x="216" width="85.7" height="8.56"/><rect class="k l7" x="301.7" width="70.6" height="8.56"/><rect class="k l7" x="372.3" width="69.4" height="8.56"/><rect class="k l7" x="441.7" width="70.6" height="8.56"/>
<text class="n" x="0" y="6.8">8</text><text class="m" x="20" y="6.8">43</text><text class="m" x="43.3" y="6.8">94</text><text class="m" x="66.7" y="6.8">2068</text><text class="r" x="181" y="6.8">-</text><text class="r" x="297.5" y="6.8">2,339,448,176</text><text class="r" x="368" y="6.8">12,869,323,095</text><text class="r" x="438" y="6.8">67,630,226,621</text><text class="r" x="509" y="6.8">339,582,992,820</text></g>

<g transform="translate(0,385.38)"><rect class="k w" x="8.3" width="23.4" height="8.56"/><rect class="k w" x="31.7" width="23.3" height="8.56"/><rect class="k w" x="55" width="23.3" height="8.56"/><rect class="k2 w" x="127" width="58" height="8.56"/><rect class="k l4" x="216" width="85.7" height="8.56"/><rect class="k l7" x="301.7" width="70.6" height="8.56"/><rect class="k l7" x="372.3" width="69.4" height="8.56"/><rect class="k l7" x="441.7" width="70.6" height="8.56"/>
<text class="n" x="0" y="6.8">9</text><text class="m" x="20" y="6.8">44</text><text class="m" x="43.3" y="6.8">95</text><text class="m" x="66.7" y="6.8">2069</text><text class="r" x="181" y="6.8">-</text><text class="r" x="297.5" y="6.8">2,456,420,585</text><text class="r" x="368" y="6.8">14,156,255,404</text><text class="r" x="438" y="6.8">77,774,760,614</text><text class="r" x="509" y="6.8">407,499,591,383</text></g>

<g transform="translate(0,393.94)"><rect class="k w" x="8.3" width="23.4" height="8.56"/><rect class="k w" x="31.7" width="23.3" height="8.56"/><rect class="k w" x="55" width="23.3" height="8.56"/><rect class="k2 w" x="127" width="58" height="8.56"/><rect class="k l4" x="216" width="85.7" height="8.56"/><rect class="k l7" x="301.7" width="70.6" height="8.56"/><rect class="k l7" x="372.3" width="69.4" height="8.56"/><rect class="k l7" x="441.7" width="70.6" height="8.56"/>
<text class="n" x="0" y="6.8">0</text><text class="m" x="20" y="6.8">45</text><text class="m" x="43.3" y="6.8">96</text><text class="m" x="66.7" y="6.8">2070</text><text class="r" x="181" y="6.8">-</text><text class="r" x="297.5" y="6.8">2,579,241,614</text><text class="r" x="368" y="6.8">15,571,880,945</text><text class="r" x="438" y="6.8">89,440,974,706</text><text class="r" x="509" y="6.8">488,999,509,660</text></g>

<g transform="translate(0,402.5)"><rect class="k w" x="8.3" width="23.4" height="8.56"/><rect class="k w" x="31.7" width="23.3" height="8.56"/><rect class="k w" x="55" width="23.3" height="8.56"/><rect class="k2 w" x="127" width="58" height="8.56"/><rect class="k l4" x="216" width="85.7" height="8.56"/><rect class="k l7" x="301.7" width="70.6" height="8.56"/><rect class="k l7" x="372.3" width="69.4" height="8.56"/><rect class="k l7" x="441.7" width="70.6" height="8.56"/>
<text class="n" x="0" y="6.8">1</text><text class="m" x="20" y="6.8">46</text><text class="m" x="43.3" y="6.8">97</text><text class="m" x="66.7" y="6.8">2071</text><text class="r" x="181" y="6.8">-</text><text class="r" x="297.5" y="6.8">2,708,203,694</text><text class="r" x="368" y="6.8">17,129,069,039</text><text class="r" x="438" y="6.8">102,857,120,912</text><text class="r" x="509" y="6.8">586,799,411,592</text></g>

<g transform="translate(0,411.06)"><rect class="k w" x="8.3" width="23.4" height="8.56"/><rect class="k w" x="31.7" width="23.3" height="8.56"/><rect class="k w" x="55" width="23.3" height="8.56"/><rect class="k2 w" x="127" width="58" height="8.56"/><rect class="k l4" x="216" width="85.7" height="8.56"/><rect class="k l7" x="301.7" width="70.6" height="8.56"/><rect class="k l7" x="372.3" width="69.4" height="8.56"/><rect class="k l7" x="441.7" width="70.6" height="8.56"/>
<text class="n" x="0" y="6.8">2</text><text class="m" x="20" y="6.8">47</text><text class="m" x="43.3" y="6.8">98</text><text class="m" x="66.7" y="6.8">2072</text><text class="r" x="181" y="6.8">-</text><text class="r" x="297.5" y="6.8">2,843,613,879</text><text class="r" x="368" y="6.8">18,841,975,943</text><text class="r" x="438" y="6.8">118,285,689,049</text><text class="r" x="509" y="6.8">704,159,293,911</text></g>

<g transform="translate(0,419.62)"><rect class="k w" x="8.3" width="23.4" height="8.56"/><rect class="k w" x="31.7" width="23.3" height="8.56"/><rect class="k w" x="55" width="23.3" height="8.56"/><rect class="k2 w" x="127" width="58" height="8.56"/><rect class="k l4" x="216" width="85.7" height="8.56"/><rect class="k l7" x="301.7" width="70.6" height="8.56"/><rect class="k l7" x="372.3" width="69.4" height="8.56"/><rect class="k l7" x="441.7" width="70.6" height="8.56"/>
<text class="n" x="0" y="6.8">3</text><text class="m" x="20" y="6.8">48</text><text class="m" x="43.3" y="6.8">99</text><text class="m" x="66.7" y="6.8">2073</text><text class="r" x="181" y="6.8">-</text><text class="r" x="297.5" y="6.8">2,985,794,573</text><text class="r" x="368" y="6.8">20,726,173,538</text><text class="r" x="438" y="6.8">136,028,542,406</text><text class="r" x="509" y="6.8">844,991,152,693</text></g>

<g transform="translate(0,428.18)"><rect class="k w" x="8.3" width="23.4" height="8.56"/><rect class="k w" x="31.7" width="23.3" height="8.56"/><rect class="k w" x="55" width="23.3" height="8.56"/><rect class="k2 w" x="127" width="58" height="8.56"/><rect class="k l5" x="216" width="85.7" height="8.56"/><rect class="k l7" x="301.7" width="70.6" height="8.56"/><rect class="k l7" x="372.3" width="69.4" height="8.56"/><rect class="k l7" x="441.7" width="70.6" height="8.56"/>
<text class="n" x="0" y="6.8">4</text><text class="m" x="20" y="6.8">49</text><text class="m" x="43.3" y="6.8">100</text><text class="m" x="66.7" y="6.8">2074</text><text class="r" x="181" y="6.8">-</text><text class="r" x="297.5" y="6.8">3,135,084,302</text><text class="r" x="368" y="6.8">22,798,790,891</text><text class="r" x="438" y="6.8">156,432,823,767</text><text class="r" x="509" y="6.8">1,013,989,383,231</text></g>

<text class="n" x="0" y="443.5">5</text>
</svg>
</body></html>
